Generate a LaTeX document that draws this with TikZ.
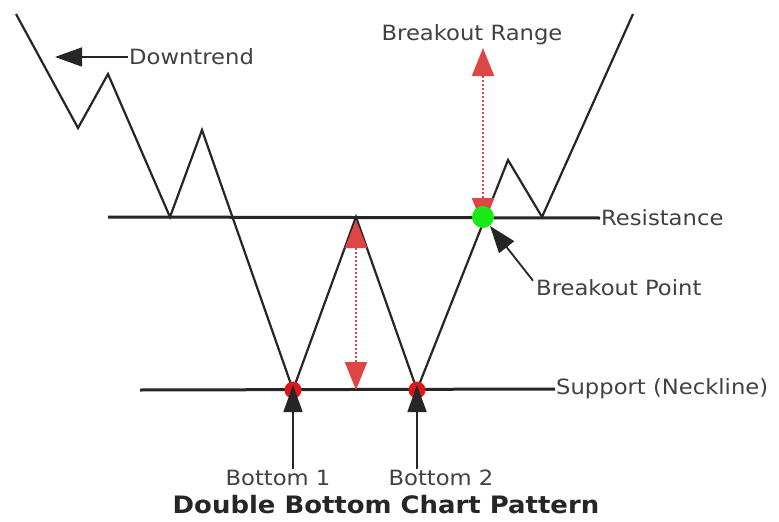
\documentclass[tikz,border=0pt]{standalone}
\usepackage{fontspec}
\setmainfont{DejaVu Sans}[FakeStretch=1.08]
\usetikzlibrary{arrows.meta}
\definecolor{lblgrey}{RGB}{65,65,65}
\definecolor{rangered}{RGB}{222,70,70}
\definecolor{dotred}{RGB}{215,25,25}
\definecolor{breakgreen}{RGB}{25,235,25}
\tikzset{
    price/.style={line width=2.2pt, black!85, line join=miter},
    level/.style={line width=3pt, black!85},
    lbl/.style={text=lblgrey, font=\fontsize{21}{25}\selectfont, inner sep=1pt},
    pointer/.style={line width=1.8pt, black!85, -{Triangle[length=27pt,width=19pt]}},
    span/.style={rangered, line width=2pt, dotted,
        {Triangle[length=28pt,width=22pt]}-{Triangle[length=28pt,width=22pt]}}
}
\begin{document}
\begin{tikzpicture}[x=1pt, y=-1pt]
    \useasboundingbox[fill=white] (0,0) rectangle (779,522);
    % price path
    \draw[price] (16,14) -- (78,128) -- (108,74) -- (170,217) -- (202,130)
        -- (293,390) coordinate (bottomA) -- (356,217) coordinate (peak)
        -- (417,390) coordinate (bottomB) -- (508,160) -- (542,217) -- (633,14);
    \coordinate (breakpt) at (483,217);
    % levels
    \node[lbl, anchor=west] (res) at (600,218) {Resistance};
    \node[lbl, anchor=west] (sup) at (555,389) {Support (Neckline)};
    \draw[level] (108,217) -- (res.west);
    \draw[level] (140,390) -- (sup.west);
    % ranges
    \draw[span] ([yshift=-3pt]peak) -- (bottomB -| peak);
    \draw[span] (breakpt |- 0,48) -- ([yshift=-9pt]breakpt);
    \node[lbl] (range) at (472,35) {Breakout Range};
    % markers
    \foreach \b in {bottomA,bottomB}
        \fill[dotred] (\b) circle (8.5);
    \fill[breakgreen] (breakpt) circle (11);
    % labels
    \node[lbl, anchor=west] (down) at (128,57) {Downtrend};
    \coordinate (downtip) at (55,57);
    \draw[pointer] (down.west) -- (downtip);
    \node[lbl, anchor=west] (bpt) at (535,288) {Breakout Point};
    \draw[pointer] ([xshift=-2pt,yshift=-2pt]bpt.north west) -- ([shift={(7,9)}]breakpt);
    \node[lbl] (botA) at (278,478) {Bottom 1};
    \node[lbl] (botB) at (441,478) {Bottom 2};
    \draw[pointer] (bottomA |- botA.north) -- ([yshift=5pt]bottomA);
    \draw[pointer] (bottomB |- botB.north) -- ([yshift=5pt]bottomB);
    \node[font=\fontsize{24}{28}\selectfont\bfseries, text=black!85] (title) at (386,505)
        {Double Bottom Chart Pattern};
\end{tikzpicture}
\end{document}
